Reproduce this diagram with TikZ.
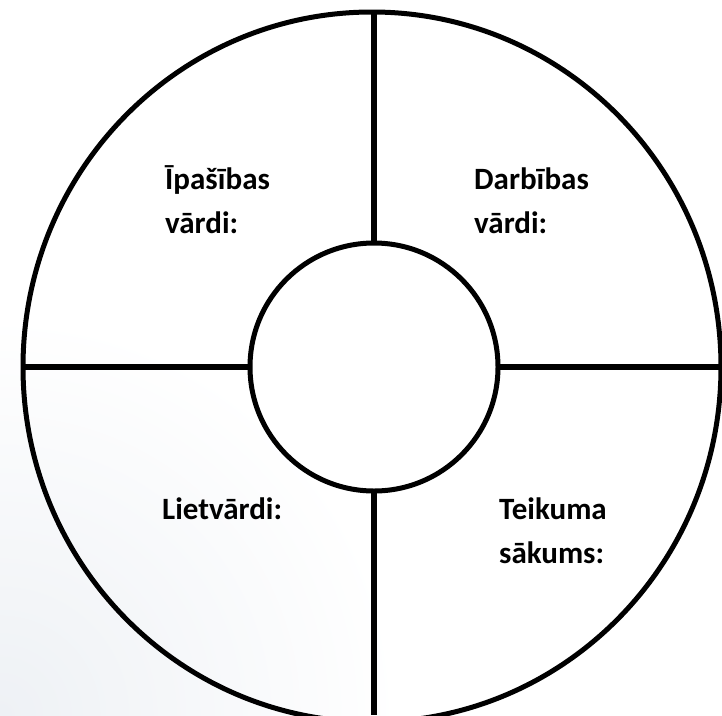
\documentclass[tikz,border=0pt]{standalone}
\usepackage{fontspec}
\setmainfont{Carlito}
\usetikzlibrary{shapes.geometric}
\definecolor{bgtint}{HTML}{EEF1F5}
\begin{document}
\begin{tikzpicture}[x=1pt,y=1pt,
  ring/.style={draw=black,line width=5pt,inner sep=0pt,outer sep=0pt},
  spoke/.style={draw=black,line width=6pt},
  lbl/.style={font=\fontsize{31}{44}\selectfont\bfseries,align=left,anchor=base west,inner sep=0pt}]
\useasboundingbox (0,0) rectangle (722,-715);
\fill[white] (0,0) rectangle (722,-715);
\begin{scope}
\clip (0,0) rectangle (722,-715);
\shade[inner color=bgtint, outer color=white] (0,-715) circle (400);
\end{scope}
\node[ring,ellipse,minimum width=698pt,minimum height=710pt] (outer) at (372,-367) {};
\node[ring,circle,minimum size=248pt,fill=white] (inner) at (374,-367) {};
\coordinate (top) at (374,-11);
\coordinate (bot) at (374,-715);
\coordinate (lft) at (23,-367);
\coordinate (rgt) at (722,-367);
\draw[spoke] (top) -- (inner.north);
\draw[spoke] (inner.south) -- (bot);
\draw[spoke] (lft) -- (inner.west);
\draw[spoke] (inner.east) -- (rgt);
\node[lbl] (ip) at (165,-233) {Īpašības\\vārdi:};
\node[lbl] (da) at (474,-233) {Darbības\\vārdi:};
\node[lbl] (li) at (162,-519) {Lietvārdi:};
\node[lbl] (te) at (499,-563) {Teikuma\\sākums:};
\end{tikzpicture}
\end{document}
